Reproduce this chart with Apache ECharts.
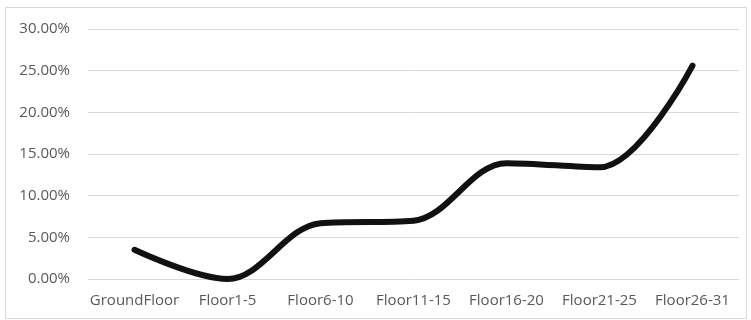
<!DOCTYPE html>
<html>
<head>
<meta charset="utf-8">
<script src="https://cdn.jsdelivr.net/npm/echarts@6/dist/echarts.min.js"></script>
<style>
  html, body { margin: 0; padding: 0; background: #fff; }
  #chart { width: 751px; height: 320px; }
</style>
</head>
<body>
<div id="chart"></div>
<script>
const floors = ["GroundFloor", "Floor1-5", "Floor6-10", "Floor11-15", "Floor16-20", "Floor21-25", "Floor26-31"];
const shares = [3.5, 0.0, 6.7, 7.0, 13.9, 13.4, 25.6];

const chart = echarts.init(document.getElementById("chart"));

const option = {
  animation: false,
  graphic: [
    {
      type: "rect",
      shape: { x: 5.5, y: 7.5, width: 741, height: 311 },
      style: { fill: "none", stroke: "#d9d9d9", lineWidth: 1 },
      silent: true,
    },
  ],
  grid: {
    left: 88,
    right: 12,
    top: 29,
    bottom: 41,
    containLabel: false,
  },
  xAxis: {
    type: "category",
    data: floors,
    boundaryGap: true,
    axisLine: { show: false },
    axisTick: { show: false },
    axisLabel: {
      color: "#595959",
      fontFamily: "Open Sans",
      fontSize: 15,
      margin: 14,
      interval: 0,
    },
  },
  yAxis: {
    type: "value",
    min: 0,
    max: 30,
    interval: 5,
    axisLine: { show: false },
    axisTick: { show: false },
    splitLine: { lineStyle: { color: "#d9d9d9", width: 1 } },
    axisLabel: {
      color: "#595959",
      fontFamily: "Open Sans",
      fontSize: 15,
      margin: 18,
      formatter: (v) => v.toFixed(2) + "%",
    },
  },
  series: [
    {
      type: "line",
      data: shares,
      smooth: 0.35,
      symbol: "none",
      lineStyle: { color: "#111111", width: 6, cap: "round", join: "round" },
    },
  ],
};

chart.setOption(option);
</script>
</body>
</html>
